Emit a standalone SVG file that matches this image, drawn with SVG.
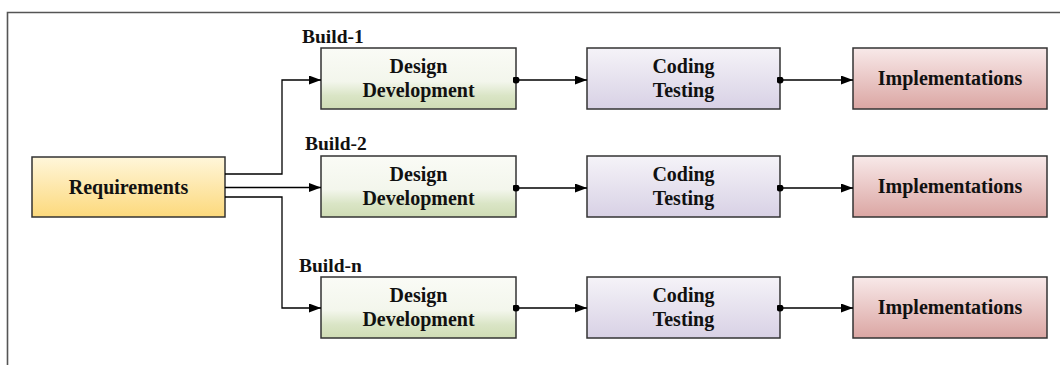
<svg xmlns="http://www.w3.org/2000/svg" width="1060" height="365" viewBox="0 0 1060 365">
<defs>
<linearGradient id="gReq" x1="0" y1="0" x2="0" y2="1">
<stop offset="0" stop-color="#fff6da"/>
<stop offset="1" stop-color="#fcd97c"/>
</linearGradient>
<linearGradient id="gDes" x1="0" y1="0" x2="0" y2="1">
<stop offset="0" stop-color="#fafbf6"/>
<stop offset="0.55" stop-color="#f3f6ec"/>
<stop offset="0.78" stop-color="#dae5c6"/>
<stop offset="1" stop-color="#cfdcb4"/>
</linearGradient>
<linearGradient id="gCod" x1="0" y1="0" x2="0" y2="1">
<stop offset="0" stop-color="#f5f3f8"/>
<stop offset="1" stop-color="#d8d1e5"/>
</linearGradient>
<linearGradient id="gImp" x1="0" y1="0" x2="0" y2="1">
<stop offset="0" stop-color="#f8e9e9"/>
<stop offset="1" stop-color="#dba6a3"/>
</linearGradient>
<marker id="arr" viewBox="0 0 12 9" refX="12" refY="4.5" markerWidth="12" markerHeight="9" markerUnits="userSpaceOnUse" orient="auto">
<path d="M0,0 L12,4.5 L0,9 Z" fill="#000"/>
</marker>
<marker id="dot" viewBox="0 0 8 8" refX="4" refY="4" markerWidth="7" markerHeight="7" markerUnits="userSpaceOnUse">
<circle cx="4" cy="4" r="4" fill="#000"/>
</marker>
</defs>
<style>
.box{stroke:#333;stroke-width:1.5}
.t{font-family:"Liberation Serif","Times New Roman",serif;font-weight:bold;font-size:20px;fill:#111;text-anchor:middle}
.lb{font-family:"Liberation Serif","Times New Roman",serif;font-weight:bold;font-size:19.5px;fill:#111}
.c{fill:none;stroke:#000;stroke-width:1.3}
.frame{fill:none;stroke:#555;stroke-width:1.6}
</style>
<rect width="1060" height="365" fill="#fff"/>
<path class="frame" d="M7.5,365 V12.5 H1060"/>

<g id="requirements">
<rect class="box" x="32" y="157" width="193" height="60" fill="url(#gReq)"/>
<text class="t" x="128.5" y="194">Requirements</text>
</g>

<g id="build1-label"><text class="lb" x="302" y="43">Build-1</text></g>
<g id="build2-label"><text class="lb" x="305" y="150">Build-2</text></g>
<g id="buildn-label"><text class="lb" x="299" y="272">Build-n</text></g>

<g id="design1">
<rect class="box" x="321" y="48" width="195" height="61" fill="url(#gDes)"/>
<text class="t" x="418.5" y="73">Design</text>
<text class="t" x="418.5" y="97">Development</text>
</g>
<g id="coding1">
<rect class="box" x="587" y="48" width="193" height="61" fill="url(#gCod)"/>
<text class="t" x="683.5" y="73">Coding</text>
<text class="t" x="683.5" y="97">Testing</text>
</g>
<g id="impl1">
<rect class="box" x="853" y="48" width="194" height="61" fill="url(#gImp)"/>
<text class="t" x="950" y="85">Implementations</text>
</g>

<g id="design2">
<rect class="box" x="321" y="156" width="195" height="61" fill="url(#gDes)"/>
<text class="t" x="418.5" y="181">Design</text>
<text class="t" x="418.5" y="205">Development</text>
</g>
<g id="coding2">
<rect class="box" x="587" y="156" width="193" height="61" fill="url(#gCod)"/>
<text class="t" x="683.5" y="181">Coding</text>
<text class="t" x="683.5" y="205">Testing</text>
</g>
<g id="impl2">
<rect class="box" x="853" y="156" width="194" height="61" fill="url(#gImp)"/>
<text class="t" x="950" y="193">Implementations</text>
</g>

<g id="design3">
<rect class="box" x="321" y="277" width="195" height="61" fill="url(#gDes)"/>
<text class="t" x="418.5" y="302">Design</text>
<text class="t" x="418.5" y="326">Development</text>
</g>
<g id="coding3">
<rect class="box" x="587" y="277" width="193" height="61" fill="url(#gCod)"/>
<text class="t" x="683.5" y="302">Coding</text>
<text class="t" x="683.5" y="326">Testing</text>
</g>
<g id="impl3">
<rect class="box" x="853" y="277" width="194" height="61" fill="url(#gImp)"/>
<text class="t" x="950" y="314">Implementations</text>
</g>

<g id="connectors">
<path class="c" d="M225,174 H282 V80 H321" marker-end="url(#arr)"/>
<path class="c" d="M225,187.5 H321" marker-end="url(#arr)"/>
<path class="c" d="M225,197 H282 V308 H321" marker-end="url(#arr)"/>
<path class="c" d="M516,80 H587" marker-start="url(#dot)" marker-end="url(#arr)"/>
<path class="c" d="M780,80 H853" marker-start="url(#dot)" marker-end="url(#arr)"/>
<path class="c" d="M516,188 H587" marker-start="url(#dot)" marker-end="url(#arr)"/>
<path class="c" d="M780,188 H853" marker-start="url(#dot)" marker-end="url(#arr)"/>
<path class="c" d="M516,308 H587" marker-start="url(#dot)" marker-end="url(#arr)"/>
<path class="c" d="M780,308 H853" marker-start="url(#dot)" marker-end="url(#arr)"/>
</g>
</svg>
